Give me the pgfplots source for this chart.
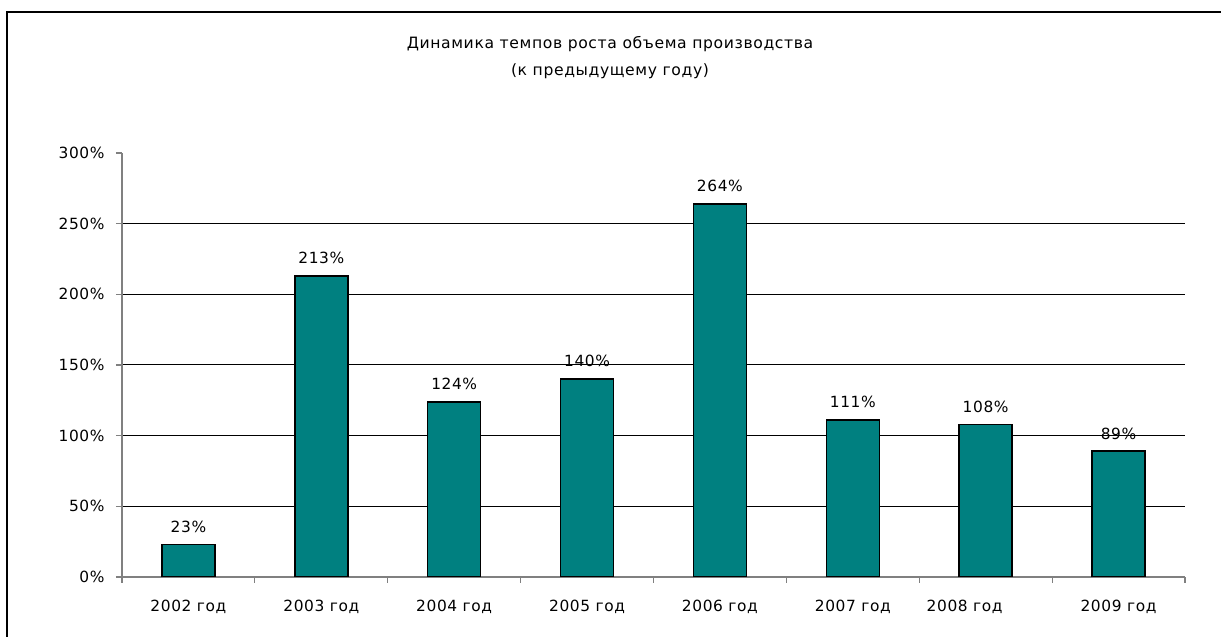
\documentclass[border=0pt]{standalone}
\usepackage{fontspec}
\setmainfont{DejaVu Sans}[LetterSpace=4]
\usepackage{pgfplots}
\pgfplotsset{compat=1.18}
\definecolor{teal}{RGB}{0,128,128}
\definecolor{axgray}{RGB}{128,128,128}
\begin{document}
\fontsize{7.7}{9}\selectfont
\begin{tikzpicture}[x=1pt,y=1pt]
\useasboundingbox (0,0) rectangle (610.5,318.5);
\draw[line width=1pt] (3.5,-2) -- (3.5,312.5) -- (615,312.5);
\node[align=center,font=\fontsize{7.8}{13.5}\selectfont] at (305,289.5) {Динамика темпов роста объема производства\\(к предыдущему году)};
\begin{axis}[
  at={(61pt,30pt)}, anchor=south west,
  scale only axis, width=531.5pt, height=212pt,
  xmin=-0.5, xmax=7.5, ymin=0, ymax=300,
  axis x line=bottom, axis y line=left,
  axis line style={-, axgray, line width=0.6pt},
  xtick={0,...,7},
  xticklabels={2002 год,2003 год,2004 год,2005 год,2006 год,2007 год,{\hspace*{-21pt}2008 год},2009 год},
  minor xtick={-0.5,0.5,...,7.5},
  major x tick style={draw=none},
  minor x tick style={axgray, line width=0.6pt},
  minor tick length=3pt,
  ytick={0,50,100,150,200,250},
  yticklabels={0\%,50\%,100\%,150\%,200\%,250\%},
  extra y ticks={300}, extra y tick labels={300\%},
  extra y tick style={grid=none},
  ymajorgrids, major grid style={black, line width=0.5pt},
  y tick style={axgray, line width=0.6pt},
  major tick length=3pt,
  tick align=outside,
  xticklabel style={yshift=-6pt},
  yticklabel style={xshift=-3pt},
  ybar, bar width=26.5pt,
  nodes near coords={\pgfmathprintnumber[assume math mode=true]{\pgfplotspointmeta}\%},
  nodes near coords style={yshift=3pt},
]
\addplot[fill=teal, draw=black, line width=0.8pt] coordinates {
(0,23) (1,213) (2,124) (3,140) (4,264) (5,111) (6,108) (7,89)};
\end{axis}
\end{tikzpicture}
\end{document}
